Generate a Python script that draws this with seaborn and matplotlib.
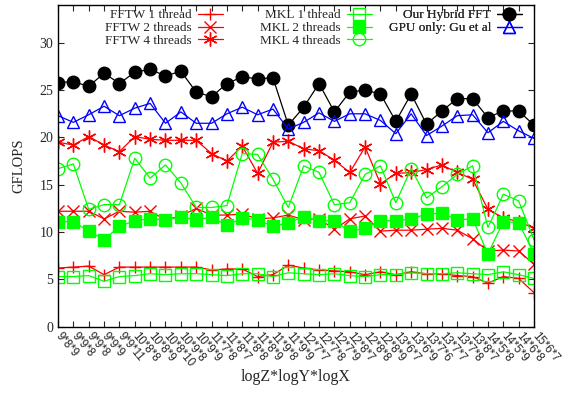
import numpy as np
import pandas as pd
import seaborn as sns
import matplotlib
matplotlib.use("Agg")
import matplotlib.pyplot as plt

sizes = ["9*8*9", "9*9*8", "9*9*8", "9*9*9", "9*9*11", "10*8*8", "10*8*9", "10*8*10",
         "10*9*8", "10*9*9", "11*7*8", "11*8*7", "11*8*8", "11*8*9", "11*9*8", "11*9*9",
         "12*7*7", "12*7*8", "12*7*9", "12*8*7", "12*8*8", "12*8*9", "13*6*7", "13*6*9",
         "13*7*6", "13*7*7", "13*7*8", "13*8*7", "14*5*8", "14*5*9", "14*6*8", "15*6*7"]

fftw1 = [6.2, 6.3, 6.4, 5.5, 6.3, 6.3, 6.3, 6.3, 6.3, 6.3, 6.0, 6.1, 6.1, 5.3, 5.5, 6.5,
         6.2, 6.0, 5.9, 5.8, 5.5, 5.8, 5.5, 5.8, 5.6, 5.6, 5.4, 5.3, 4.6, 5.3, 5.1, 3.6]
fftw2 = [12.2, 12.2, 12.2, 11.4, 12.2, 12.1, 12.2, 11.3, 11.7, 12.5, 11.8, 11.8, 11.9, 11.4, 11.5, 11.8,
         11.3, 11.4, 10.3, 11.4, 11.7, 10.1, 10.2, 10.2, 10.3, 10.4, 10.2, 9.3, 8.0, 8.1, 8.0, 6.6]
fftw4 = [19.5, 19.2, 20.1, 19.2, 18.5, 20.1, 19.8, 19.7, 19.7, 19.7, 18.3, 17.5, 19.1, 16.2, 19.5, 19.6,
         18.8, 18.6, 17.6, 16.3, 19.0, 15.1, 16.2, 16.3, 16.6, 17.1, 16.3, 15.6, 12.4, 11.5, 11.1, 10.4]
mkl1 = [5.3, 5.3, 5.4, 4.8, 5.3, 5.4, 5.6, 5.5, 5.6, 5.6, 5.5, 5.4, 5.6, 5.6, 5.3, 5.7,
        5.6, 5.5, 5.6, 5.4, 5.3, 5.5, 5.5, 5.7, 5.6, 5.6, 5.7, 5.6, 5.5, 5.8, 5.5, 5.1]
mkl2 = [11.1, 11.1, 10.1, 9.2, 10.6, 11.2, 11.4, 11.3, 11.6, 11.3, 11.6, 10.7, 11.5, 11.3, 10.6, 11.0,
        11.6, 11.2, 11.2, 10.1, 10.4, 11.2, 11.2, 11.4, 11.9, 12.0, 11.3, 11.4, 7.7, 11.1, 11.0, 7.7]
mkl4 = [16.7, 17.2, 12.4, 12.9, 12.9, 17.8, 15.7, 17.1, 15.2, 12.6, 12.6, 12.8, 18.3, 18.2, 15.6, 12.6,
        17.0, 16.3, 12.9, 13.1, 16.1, 17.0, 13.1, 16.7, 13.6, 14.8, 16.1, 17.0, 10.5, 14.0, 13.3, 9.2]
hybrid = [25.8, 25.9, 25.4, 26.8, 25.7, 26.9, 27.2, 26.5, 27.0, 24.8, 24.3, 25.7, 26.4, 26.2, 26.3, 21.3,
          23.2, 25.7, 22.7, 24.8, 25.0, 24.6, 21.7, 24.6, 21.4, 22.8, 24.1, 24.1, 22.1, 22.8, 22.8, 21.3]
gpu = [22.3, 21.6, 22.4, 23.3, 22.3, 23.1, 23.6, 21.5, 22.7, 21.5, 21.5, 22.5, 23.2, 22.4, 23.0, 20.9,
       21.6, 22.6, 21.7, 22.5, 22.5, 21.8, 20.4, 22.5, 20.2, 21.2, 22.3, 22.4, 20.5, 21.7, 20.7, 19.9]

series_names = ["FFTW 1 thread", "FFTW 2 threads", "FFTW 4 threads",
                "MKL 1 thread", "MKL 2 threads", "MKL 4 threads",
                "Our Hybrid FFT", "GPU only: Gu et al"]
series_vals = [fftw1, fftw2, fftw4, mkl1, mkl2, mkl4, hybrid, gpu]

rows = []
for name, vals in zip(series_names, series_vals):
    for i, v in enumerate(vals):
        rows.append({"idx": i, "GFLOPS": v, "series": name})
df = pd.DataFrame(rows)

sns.set_style("ticks")
plt.rcParams["font.family"] = ["Liberation Serif", "DejaVu Serif"]

RED, GREEN, BLUE = "#ff0000", "#00ff00", "#0000ff"
styles = {
    "FFTW 1 thread": dict(color=RED, marker="+", ms=9, mfc="none", mew=1.0),
    "FFTW 2 threads": dict(color=RED, marker="x", ms=8, mfc="none", mew=1.0),
    "FFTW 4 threads": dict(color=RED, marker=(6, 2, 0), ms=10, mfc="none", mew=1.0),
    "MKL 1 thread": dict(color=GREEN, marker="s", ms=8, mfc="none", mew=1.0),
    "MKL 2 threads": dict(color=GREEN, marker="s", ms=8, mfc=GREEN, mew=1.0),
    "MKL 4 threads": dict(color=GREEN, marker="o", ms=9, mfc="none", mew=1.0),
    "Our Hybrid FFT": dict(color="black", marker="o", ms=9, mfc="black", mew=1.0),
    "GPU only: Gu et al": dict(color=BLUE, marker="^", ms=9, mfc="none", mew=1.0),
}

fig = plt.figure(figsize=(5.74, 3.93), dpi=100)
ax = fig.add_axes([58/574, 1-326.7/393, (534-58)/574, (326.7-5)/393])

handles = {}
for name in series_names:
    st = styles[name]
    sub = df[df["series"] == name]
    sns.lineplot(data=sub, x="idx", y="GFLOPS", ax=ax, color=st["color"], lw=0.9,
                 marker=st["marker"], markersize=st["ms"], markerfacecolor=st["mfc"],
                 markeredgecolor=st["color"], markeredgewidth=st["mew"], legend=False,
                 estimator=None, sort=False)
    handles[name] = ax.lines[-1]

ax.set_xlim(0, 31)
ax.set_ylim(0, 34)
ax.set_yticks(range(0, 31, 5))
ax.set_xticks(range(len(sizes)))
ax.set_xticklabels(sizes, rotation=-50, ha="left", va="center", rotation_mode="anchor",
                   family=["Liberation Sans", "DejaVu Sans"], fontsize=8.3)
ax.tick_params(axis="both", direction="in", top=True, right=True, length=4, width=0.8)
ax.tick_params(axis="x", pad=5)
ax.tick_params(axis="y", labelsize=10)
for s in ax.spines.values():
    s.set_linewidth(1.0)
    s.set_color("black")
ax.set_xlabel("logZ*logY*logX", fontsize=11.5)
ax.xaxis.set_label_coords(0.5, -(369 - 326.7) / 321.7)
ax.set_ylabel("GFLOPS", fontsize=10.5)
ax.yaxis.set_label_coords(-(58 - 25) / 476, 0.5)

groups = [(series_names[0:3], 223), (series_names[3:6], 372), (series_names[6:8], 522)]
for names, xr in groups:
    leg = ax.legend([handles[n] for n in names], names, loc="upper right",
                    bbox_to_anchor=(xr/574, 1-9/393), bbox_transform=fig.transFigure,
                    frameon=False, markerfirst=False, borderpad=0, borderaxespad=0,
                    handlelength=1.9, handletextpad=0.45, labelspacing=0.05, fontsize=9.5)
    ax.add_artist(leg)

fig.savefig("out.png", dpi=100)
